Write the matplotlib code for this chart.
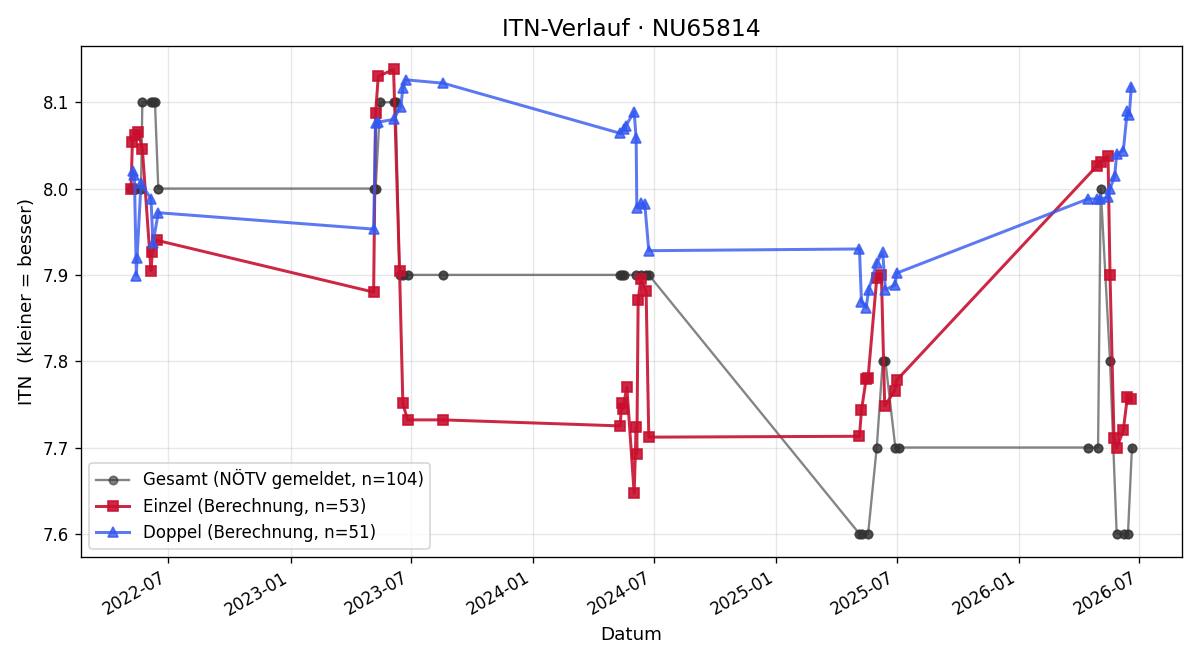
import numpy as np
import pandas as pd
import matplotlib
matplotlib.use('Agg')
import matplotlib.pyplot as plt
import matplotlib.dates as mdates

# ── Data ──────────────────────────────────────────────────────────────────────
einzel_dates = [
    "2022-05-06", "2022-05-08", "2022-05-12", "2022-05-17", "2022-05-23",
    "2022-06-05", "2022-06-07", "2022-06-14",
    "2023-05-06", "2023-05-09", "2023-05-13", "2023-06-05", "2023-06-14",
    "2023-06-19", "2023-06-26", "2023-08-19",
    "2024-05-11", "2024-05-13", "2024-05-15", "2024-05-21", "2024-06-01",
    "2024-06-04", "2024-06-05", "2024-06-07", "2024-06-11", "2024-06-19",
    "2024-06-23",
    "2025-05-06", "2025-05-09", "2025-05-16", "2025-05-19", "2025-06-01",
    "2025-06-08", "2025-06-13", "2025-06-28", "2025-07-01",
    "2026-04-28", "2026-05-04", "2026-05-15", "2026-05-18", "2026-05-24",
    "2026-05-28", "2026-06-07", "2026-06-13", "2026-06-19",
]
einzel_itn = [
    8.000, 8.054, 8.062, 8.065, 8.046, 7.905, 7.926, 7.940,
    7.880, 8.088, 8.130, 8.138, 7.905, 7.751, 7.732, 7.732,
    7.725, 7.751, 7.745, 7.770, 7.647, 7.724, 7.693, 7.871, 7.895, 7.881,
    7.712,
    7.713, 7.743, 7.779, 7.781, 7.896, 7.900, 7.748, 7.766, 7.778,
    8.026, 8.031, 8.038, 7.900, 7.711, 7.699, 7.720, 7.758, 7.756,
]

doppel_dates = [
    "2022-05-09", "2022-05-11", "2022-05-14", "2022-05-15", "2022-05-21",
    "2022-06-05", "2022-06-08", "2022-06-16",
    "2023-05-06", "2023-05-09", "2023-05-13", "2023-06-05", "2023-06-16",
    "2023-06-19", "2023-06-23", "2023-08-19",
    "2024-05-11", "2024-05-16", "2024-05-19", "2024-06-01", "2024-06-04",
    "2024-06-05", "2024-06-11", "2024-06-17", "2024-06-23",
    "2025-05-06", "2025-05-09", "2025-05-16", "2025-05-20", "2025-06-01",
    "2025-06-10", "2025-06-14", "2025-06-28", "2025-07-01",
    "2026-04-15", "2026-04-28", "2026-05-03", "2026-05-15", "2026-05-18",
    "2026-05-25", "2026-05-28", "2026-06-07", "2026-06-13", "2026-06-16",
    "2026-06-19",
]
doppel_itn = [
    8.020, 8.016, 7.899, 7.920, 8.006, 7.988, 7.937, 7.972,
    7.953, 8.076, 8.077, 8.080, 8.095, 8.117, 8.126, 8.122,
    8.064, 8.069, 8.072, 8.089, 8.058, 7.978, 7.983, 7.982, 7.928,
    7.930, 7.869, 7.862, 7.883, 7.914, 7.926, 7.883, 7.888, 7.902,
    7.988, 7.988, 7.988, 7.990, 8.000, 8.014, 8.040, 8.044, 8.090, 8.085,
    8.118,
]

# Gesamt: reported values, usually two entries per date (stacked markers)
gesamt_dates = [
    "2022-05-06", "2022-05-14", "2022-05-21", "2022-05-23", "2022-06-05",
    "2022-06-08", "2022-06-11", "2022-06-16",
    "2023-05-06", "2023-05-09", "2023-05-16", "2023-06-05", "2023-06-08",
    "2023-06-14", "2023-06-19", "2023-06-26", "2023-08-19",
    "2024-05-11", "2024-05-13", "2024-05-16", "2024-06-04", "2024-06-11",
    "2024-06-19", "2024-06-23",
    "2025-05-06", "2025-05-10", "2025-05-19", "2025-06-01", "2025-06-10",
    "2025-06-14", "2025-06-29", "2025-07-04",
    "2026-04-15", "2026-04-30", "2026-05-04", "2026-05-18", "2026-05-28",
    "2026-06-08", "2026-06-14", "2026-06-20",
]
gesamt_itn = [
    8.0, 8.0, 8.0, 8.1, 8.1, 8.1, 8.1, 8.0,
    8.0, 8.0, 8.1, 8.1, 8.1, 7.9, 7.9, 7.9, 7.9,
    7.9, 7.9, 7.9, 7.9, 7.9, 7.9, 7.9,
    7.6, 7.6, 7.6, 7.7, 7.8, 7.8, 7.7, 7.7,
    7.7, 7.7, 8.0, 7.8, 7.6, 7.6, 7.6, 7.7,
]

label_gesamt = "Gesamt (NÖTV gemeldet, n=104)"
label_einzel = "Einzel (Berechnung, n=53)"
label_doppel = "Doppel (Berechnung, n=51)"

# ── Figure ────────────────────────────────────────────────────────────────────
fig, ax = plt.subplots(figsize=(10, 5.5), dpi=120)

g_x = np.repeat(pd.to_datetime(gesamt_dates).values, 2)
g_y = np.repeat(gesamt_itn, 2)
ax.plot(g_x, g_y, color='#333333', alpha=0.6, lw=1.4, marker='o', ms=5,
        label=label_gesamt, zorder=2)
ax.plot(pd.to_datetime(einzel_dates), einzel_itn, color='#c8102e', alpha=0.9,
        lw=1.8, marker='s', ms=6, label=label_einzel, zorder=3)
ax.plot(pd.to_datetime(doppel_dates), doppel_itn, color='#3358f0', alpha=0.8,
        lw=1.8, marker='^', ms=6, label=label_doppel, zorder=4)

ax.xaxis.set_major_locator(mdates.MonthLocator(bymonth=[1, 7]))
ax.xaxis.set_major_formatter(mdates.DateFormatter('%Y-%m'))
fig.autofmt_xdate(rotation=30, ha='right')
fig.subplots_adjust(left=0.0675, right=0.985, top=0.930, bottom=0.156)

ax.set_title('ITN-Verlauf · NU65814', fontsize=14)
ax.set_xlabel('Datum', fontsize=11)
ax.set_ylabel('ITN  (kleiner = besser)', fontsize=11)
ax.grid(True, alpha=0.3)
ax.legend(loc='lower left')

plt.savefig('out.png', dpi=120)
